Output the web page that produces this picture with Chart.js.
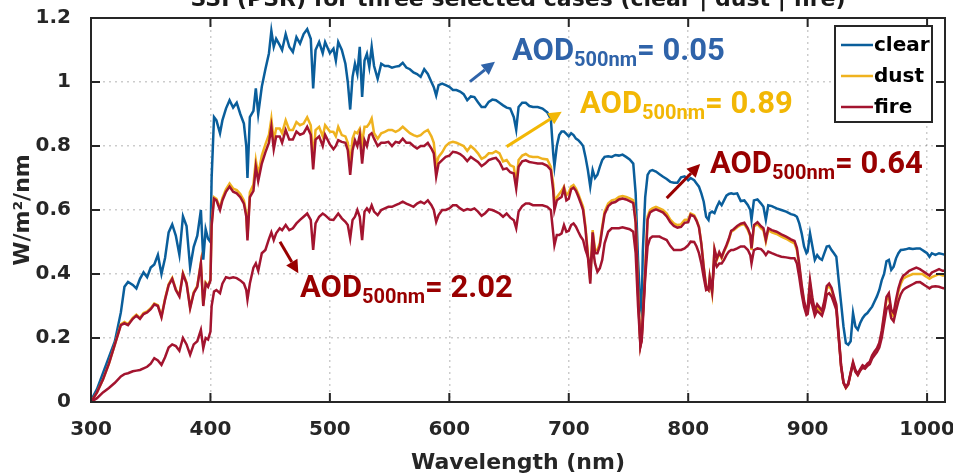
<!DOCTYPE html>
<html lang="en">
<head>
<meta charset="UTF-8">
<title>SSI (PSR) for three selected cases</title>
<style>
    body {
        margin: 0;
        padding: 0;
        background: #fff;
    }
    #chart {
        display: block;
    }
</style>
</head>
<body>
<canvas id="chart" width="953" height="476"></canvas>

<script src="https://cdn.jsdelivr.net/npm/chart.js"></script>
<script>
// wavelength grid (nm) and spectral irradiance (W/m2/nm)
const wavelength = [
    300,305,310,315,320,325,328,331,335,338,341,344,347,350,353,356,359,362,365,368,371,374,377,380,383,386,389,392,394,396,398,400,
    401,403,405,408,410,413,416,419,422,425,428,430,431,433,436,438,440,443,446,449,451,453,455,458,460,463,466,469,472,475,478,481,484,486,488,491,494,496,500,
    503,505,507,510,513,515,517,519,521,523,525,527,529,531,533,535,537,540,543,546,549,552,555,558,561,564,567,570,573,576,579,582,585,587,589,591,594,597,600,
    603,606,609,612,615,618,621,624,627,630,633,636,639,642,645,648,651,654,656,658,661,664,667,670,674,678,682,685,687,688,690,692,694,696,698,700,
    702,704,706,708,710,712,714,716,718,720,722,724,726,728,730,733,736,739,742,745,748,751,754,756,758,760,761,762,764,766,768,770,773,776,779,782,785,788,791,794,797,800,
    802,805,807,809,811,813,815,817,818,820,822,824,826,828,830,832,834,836,838,841,844,847,850,852,853,855,858,861,863,865,867,870,874,878,882,886,889,891,893,895,897,899,900,
    902,904,906,908,910,912,914,916,918,920,922,924,926,928,930,932,934,936,938,940,942,944,946,948,950,952,954,956,958,960,962,964,966,968,970,972,974,976,978,980,982,985,988,991,994,996,998,1000,1002,1004,1007,1010,1013,1015
];

// AOD 0.05
const clear = [
    0.005,0.04,0.09,0.14,0.19,0.28,0.36,0.375,0.366,0.355,0.385,0.405,0.39,0.42,0.43,0.46,0.40,0.45,0.53,0.555,0.52,0.46,0.58,0.55,0.42,0.485,0.52,0.60,0.445,0.54,0.51,0.50,
    0.70,0.89,0.88,0.84,0.88,0.917,0.943,0.92,0.935,0.90,0.87,0.80,0.70,0.89,0.91,0.98,0.90,0.985,1.04,1.09,1.16,1.11,1.135,1.115,1.10,1.15,1.11,1.094,1.14,1.12,1.15,1.165,1.135,0.98,1.10,1.125,1.09,1.125,1.09,
    1.104,1.067,1.125,1.10,1.057,1.0,0.914,1.016,1.057,1.026,1.11,0.953,1.067,1.088,1.047,1.11,1.05,1.01,1.057,1.05,1.05,1.045,1.048,1.05,1.06,1.045,1.04,1.03,1.025,1.016,1.04,1.025,1.0,0.984,0.958,0.99,0.995,0.99,0.985,
    0.975,0.975,0.97,0.962,0.943,0.955,0.953,0.937,0.922,0.922,0.938,0.945,0.943,0.935,0.927,0.92,0.917,0.89,0.851,0.922,0.935,0.935,0.925,0.922,0.922,0.917,0.905,0.885,0.775,0.737,0.80,0.834,0.845,0.845,0.838,0.83,
    0.84,0.834,0.823,0.818,0.81,0.80,0.766,0.725,0.673,0.725,0.70,0.71,0.735,0.756,0.766,0.768,0.766,0.772,0.77,0.773,0.766,0.758,0.745,0.652,0.444,0.298,0.28,0.47,0.64,0.71,0.722,0.725,0.72,0.712,0.704,0.697,0.688,0.685,0.685,0.702,0.705,0.693,
    0.70,0.693,0.683,0.673,0.652,0.626,0.579,0.569,0.59,0.595,0.59,0.61,0.625,0.615,0.63,0.645,0.65,0.652,0.65,0.652,0.628,0.63,0.615,0.60,0.569,0.63,0.633,0.62,0.61,0.569,0.615,0.612,0.605,0.60,0.595,0.587,0.584,0.579,0.558,0.527,0.486,0.465,0.47,
    0.527,0.486,0.444,0.459,0.449,0.444,0.465,0.486,0.488,0.475,0.465,0.454,0.38,0.309,0.236,0.184,0.179,0.19,0.278,0.236,0.226,0.247,0.262,0.272,0.278,0.288,0.298,0.314,0.33,0.35,0.38,0.40,0.44,0.444,0.413,0.423,0.449,0.465,0.475,0.476,0.477,0.48,0.478,0.48,0.48,0.475,0.47,0.465,0.454,0.465,0.46,0.465,0.462,0.46
];

// AOD 0.89
const dust = [
    0,0.03,0.07,0.12,0.18,0.243,0.25,0.243,0.263,0.273,0.263,0.278,0.283,0.293,0.308,0.303,0.268,0.323,0.368,0.388,0.353,0.333,0.403,0.373,0.296,0.343,0.363,0.436,0.303,0.373,0.363,0.383,
    0.555,0.64,0.635,0.607,0.637,0.665,0.683,0.667,0.662,0.65,0.63,0.59,0.515,0.655,0.68,0.755,0.71,0.77,0.805,0.835,0.885,0.815,0.855,0.855,0.84,0.88,0.85,0.85,0.875,0.865,0.87,0.89,0.865,0.76,0.85,0.86,0.83,0.865,0.845,
    0.844,0.83,0.86,0.834,0.83,0.81,0.74,0.823,0.844,0.84,0.854,0.81,0.86,0.86,0.87,0.886,0.84,0.823,0.84,0.844,0.85,0.85,0.844,0.85,0.86,0.85,0.84,0.834,0.83,0.834,0.844,0.85,0.83,0.81,0.74,0.766,0.78,0.80,0.81,
    0.813,0.81,0.805,0.80,0.785,0.80,0.79,0.777,0.76,0.766,0.777,0.777,0.784,0.777,0.752,0.756,0.74,0.735,0.683,0.756,0.77,0.775,0.768,0.766,0.766,0.76,0.758,0.735,0.68,0.63,0.64,0.65,0.66,0.673,0.646,0.655,
    0.673,0.678,0.667,0.65,0.63,0.61,0.548,0.465,0.38,0.537,0.475,0.475,0.496,0.548,0.595,0.62,0.63,0.633,0.641,0.644,0.641,0.636,0.63,0.569,0.35,0.179,0.2,0.27,0.41,0.58,0.60,0.605,0.61,0.605,0.60,0.589,0.57,0.558,0.553,0.555,0.569,0.57,
    0.589,0.584,0.569,0.548,0.496,0.423,0.36,0.35,0.39,0.34,0.475,0.444,0.465,0.449,0.47,0.486,0.506,0.532,0.537,0.546,0.553,0.556,0.537,0.517,0.475,0.548,0.556,0.543,0.537,0.501,0.537,0.53,0.525,0.517,0.51,0.501,0.496,0.475,0.423,0.36,0.309,0.278,0.285,
    0.37,0.318,0.278,0.298,0.288,0.278,0.309,0.355,0.362,0.35,0.324,0.298,0.205,0.111,0.059,0.044,0.055,0.09,0.122,0.096,0.085,0.10,0.111,0.106,0.116,0.122,0.142,0.153,0.163,0.179,0.215,0.267,0.319,0.33,0.278,0.267,0.309,0.345,0.37,0.385,0.39,0.395,0.40,0.40,0.40,0.40,0.395,0.39,0.385,0.39,0.395,0.40,0.395,0.395
];

// AOD 0.64
const fire = [
    0,0.03,0.07,0.12,0.18,0.24,0.246,0.24,0.26,0.27,0.26,0.275,0.28,0.29,0.305,0.30,0.265,0.32,0.365,0.385,0.35,0.33,0.40,0.37,0.293,0.34,0.36,0.433,0.30,0.37,0.36,0.38,
    0.55,0.635,0.63,0.60,0.63,0.657,0.673,0.657,0.652,0.64,0.62,0.58,0.505,0.64,0.66,0.735,0.69,0.745,0.78,0.81,0.86,0.79,0.83,0.83,0.81,0.85,0.82,0.82,0.845,0.835,0.84,0.86,0.835,0.727,0.82,0.83,0.80,0.835,0.805,
    0.79,0.80,0.818,0.813,0.81,0.787,0.71,0.787,0.818,0.80,0.834,0.745,0.818,0.80,0.834,0.84,0.823,0.80,0.81,0.81,0.813,0.80,0.813,0.81,0.823,0.81,0.81,0.80,0.792,0.80,0.80,0.81,0.792,0.777,0.704,0.745,0.756,0.766,0.77,
    0.782,0.78,0.775,0.766,0.753,0.766,0.758,0.75,0.737,0.745,0.756,0.76,0.763,0.75,0.727,0.73,0.718,0.714,0.667,0.735,0.752,0.755,0.75,0.748,0.745,0.745,0.738,0.725,0.66,0.60,0.63,0.636,0.641,0.667,0.63,0.635,
    0.665,0.67,0.66,0.642,0.622,0.60,0.54,0.455,0.37,0.53,0.465,0.465,0.488,0.54,0.587,0.612,0.622,0.625,0.633,0.636,0.633,0.628,0.622,0.56,0.34,0.175,0.195,0.265,0.40,0.57,0.592,0.597,0.602,0.597,0.592,0.58,0.562,0.55,0.545,0.547,0.56,0.562,
    0.585,0.58,0.566,0.546,0.494,0.42,0.36,0.35,0.39,0.345,0.478,0.448,0.468,0.453,0.473,0.49,0.51,0.535,0.54,0.55,0.557,0.56,0.542,0.522,0.48,0.553,0.562,0.549,0.543,0.507,0.543,0.537,0.532,0.524,0.517,0.508,0.503,0.482,0.43,0.367,0.316,0.285,0.292,
    0.38,0.325,0.285,0.305,0.295,0.285,0.316,0.362,0.37,0.357,0.33,0.305,0.21,0.115,0.062,0.046,0.058,0.092,0.125,0.10,0.088,0.103,0.115,0.11,0.12,0.126,0.146,0.158,0.168,0.185,0.222,0.275,0.328,0.34,0.288,0.278,0.32,0.355,0.38,0.395,0.40,0.41,0.415,0.42,0.415,0.41,0.405,0.40,0.395,0.405,0.41,0.415,0.41,0.41
];

// AOD 2.02 (second fire case)
const fireHeavy = [
    0,0.012,0.03,0.044,0.06,0.08,0.087,0.09,0.096,0.098,0.10,0.105,0.11,0.12,0.137,0.13,0.116,0.14,0.17,0.18,0.175,0.16,0.2,0.18,0.148,0.18,0.19,0.225,0.168,0.2,0.195,0.22,
    0.30,0.345,0.35,0.34,0.37,0.39,0.387,0.39,0.387,0.38,0.37,0.35,0.32,0.37,0.42,0.433,0.41,0.465,0.475,0.51,0.53,0.506,0.527,0.543,0.537,0.553,0.537,0.543,0.558,0.569,0.579,0.589,0.569,0.475,0.558,0.579,0.589,0.584,0.57,
    0.569,0.579,0.589,0.574,0.563,0.553,0.511,0.569,0.579,0.60,0.579,0.506,0.595,0.605,0.595,0.615,0.595,0.584,0.60,0.605,0.61,0.61,0.615,0.62,0.626,0.62,0.615,0.61,0.62,0.626,0.62,0.63,0.615,0.60,0.563,0.584,0.60,0.60,0.605,
    0.615,0.615,0.605,0.598,0.603,0.60,0.605,0.595,0.582,0.59,0.602,0.60,0.595,0.589,0.579,0.589,0.576,0.568,0.543,0.595,0.612,0.62,0.62,0.615,0.615,0.615,0.61,0.60,0.527,0.49,0.522,0.522,0.527,0.553,0.532,0.535,
    0.553,0.558,0.548,0.532,0.517,0.506,0.475,0.454,0.418,0.486,0.433,0.407,0.418,0.444,0.496,0.532,0.543,0.543,0.543,0.546,0.543,0.54,0.532,0.465,0.30,0.175,0.19,0.25,0.39,0.486,0.511,0.517,0.517,0.517,0.511,0.506,0.488,0.475,0.475,0.475,0.48,0.49,
    0.501,0.50,0.486,0.465,0.433,0.39,0.35,0.355,0.37,0.35,0.444,0.423,0.433,0.433,0.444,0.459,0.47,0.475,0.475,0.48,0.486,0.486,0.475,0.459,0.433,0.475,0.48,0.478,0.47,0.459,0.47,0.465,0.459,0.454,0.452,0.449,0.449,0.433,0.39,0.338,0.298,0.272,0.275,
    0.33,0.30,0.27,0.285,0.278,0.27,0.295,0.335,0.34,0.33,0.31,0.288,0.20,0.11,0.06,0.045,0.055,0.088,0.118,0.094,0.084,0.098,0.108,0.104,0.113,0.118,0.136,0.146,0.156,0.17,0.20,0.245,0.29,0.30,0.262,0.252,0.285,0.315,0.337,0.35,0.356,0.362,0.368,0.374,0.375,0.37,0.365,0.36,0.355,0.36,0.362,0.36,0.356,0.355
];

const xTicks = [300, 400, 500, 600, 700, 800, 900, 1000];
const xTickLabels = ['300', '400', '500', '600', '700', '800', '900', '1000'];
const yTicks = [0, 0.2, 0.4, 0.6, 0.8, 1, 1.2];
const yTickLabels = ['0', '0.2', '0.4', '0.6', '0.8', '1', '1.2'];
const aodValues = ['0.05', '0.89', '0.64', '2.02'];

// annotation placement, in data units (wavelength, W/m2/nm)
const notes = [
    { value: aodValues[0], color: '#2f63a9', at: [652.5, 1.070], from: [617.3, 1.001], to: [638.2, 1.063] },
    { value: aodValues[1], color: '#f2b705', at: [709.4, 0.903], from: [648.0, 0.798], to: [694.1, 0.907] },
    { value: aodValues[2], color: '#990000', at: [818.2, 0.716], from: [782.0, 0.637], to: [810.0, 0.744] },
    { value: aodValues[3], color: '#990000', at: [475.0, 0.328], from: [458.2, 0.501], to: [473.6, 0.402] }
];

const axisColor = '#262626';
const tickFont = { family: '"DejaVu Sans"', size: 20, weight: 'bold' };

function toPoints(ys) {
    return wavelength.map((w, i) => ({ x: w, y: ys[i] }));
}

function drawArrow(ctx, x1, y1, x2, y2, color) {
    const ang = Math.atan2(y2 - y1, x2 - x1);
    const head = 13, half = 6.5;
    const bx = x2 - head * Math.cos(ang);
    const by = y2 - head * Math.sin(ang);
    ctx.strokeStyle = color;
    ctx.fillStyle = color;
    ctx.lineWidth = 3;
    ctx.beginPath();
    ctx.moveTo(x1, y1);
    ctx.lineTo(bx, by);
    ctx.stroke();
    ctx.beginPath();
    ctx.moveTo(x2, y2);
    ctx.lineTo(bx + half * Math.sin(ang), by - half * Math.cos(ang));
    ctx.lineTo(bx - half * Math.sin(ang), by + half * Math.cos(ang));
    ctx.closePath();
    ctx.fill();
}

const framePlugin = {
    id: 'frame',
    afterDraw(chart) {
        const { ctx, chartArea: a, scales: { x, y } } = chart;
        ctx.save();

        // box and inward ticks on all four sides
        ctx.strokeStyle = axisColor;
        ctx.lineWidth = 2;
        ctx.strokeRect(a.left, a.top, a.right - a.left, a.bottom - a.top);
        ctx.beginPath();
        xTicks.forEach(v => {
            const px = x.getPixelForValue(v);
            ctx.moveTo(px, a.bottom); ctx.lineTo(px, a.bottom - 9);
            ctx.moveTo(px, a.top); ctx.lineTo(px, a.top + 9);
        });
        yTicks.forEach(v => {
            const py = y.getPixelForValue(v);
            ctx.moveTo(a.left, py); ctx.lineTo(a.left + 9, py);
            ctx.moveTo(a.right, py); ctx.lineTo(a.right - 9, py);
        });
        ctx.stroke();

        // title, cut by the top edge like the original export
        ctx.fillStyle = '#1a1a1a';
        ctx.font = 'bold 22px "DejaVu Sans"';
        ctx.textAlign = 'center';
        ctx.textBaseline = 'alphabetic';
        ctx.fillText('SSI (PSR) for three selected cases (clear | dust | fire)', (a.left + a.right) / 2, 6);

        // legend
        const lx = a.right - 110, ly = a.top + 8, lw = 97, lh = 96;
        ctx.fillStyle = '#fff';
        ctx.fillRect(lx, ly, lw, lh);
        ctx.strokeStyle = axisColor;
        ctx.lineWidth = 2;
        ctx.strokeRect(lx, ly, lw, lh);
        ctx.font = 'bold 20px "DejaVu Sans"';
        ctx.textAlign = 'left';
        ctx.textBaseline = 'middle';
        chart.data.datasets.slice(0, 3).forEach((ds, i) => {
            const cy = ly + 19 + i * 31;
            ctx.strokeStyle = ds.borderColor;
            ctx.lineWidth = 2.5;
            ctx.beginPath();
            ctx.moveTo(lx + 6, cy);
            ctx.lineTo(lx + 38, cy);
            ctx.stroke();
            ctx.fillStyle = '#000';
            ctx.fillText(ds.label, lx + 39, cy + 1);
        });

        // AOD labels and arrows
        notes.forEach(n => {
            drawArrow(ctx, x.getPixelForValue(n.from[0]), y.getPixelForValue(n.from[1]),
                x.getPixelForValue(n.to[0]), y.getPixelForValue(n.to[1]), n.color);
            const px = x.getPixelForValue(n.at[0]);
            const py = y.getPixelForValue(n.at[1]);
            ctx.fillStyle = n.color;
            ctx.textAlign = 'left';
            ctx.textBaseline = 'alphabetic';
            ctx.font = 'bold 31px Roboto';
            ctx.fillText('AOD', px, py);
            let w = ctx.measureText('AOD').width;
            ctx.font = 'bold 20px Roboto';
            ctx.fillText('500nm', px + w, py + 6);
            w += ctx.measureText('500nm').width;
            ctx.font = 'bold 31px Roboto';
            ctx.fillText('= ' + n.value, px + w, py);
        });

        ctx.restore();
    }
};

const ctx = document.getElementById('chart').getContext('2d');
new Chart(ctx, {
    type: 'line',
    data: {
        datasets: [
            { label: 'clear', data: toPoints(clear), borderColor: '#0a5e9b', order: 3 },
            { label: 'dust', data: toPoints(dust), borderColor: '#efb21f', order: 2 },
            { label: 'fire', data: toPoints(fire), borderColor: '#a3142f', order: 1 },
            { label: 'fire (AOD 2.02)', data: toPoints(fireHeavy), borderColor: '#a3142f', order: 0 }
        ]
    },
    options: {
        responsive: false,
        animation: false,
        elements: {
            line: { borderWidth: 2.5, tension: 0, fill: false },
            point: { radius: 0 }
        },
        layout: { autoPadding: false, padding: { top: 18, right: 8, left: 0, bottom: 0 } },
        plugins: {
            legend: { display: false },
            tooltip: { enabled: false }
        },
        scales: {
            x: {
                type: 'linear',
                min: 300,
                max: 1015,
                afterBuildTicks: s => { s.ticks = xTicks.map(v => ({ value: v })); },
                afterFit: s => {
                    s.height = 74;
                    s.paddingLeft = 0;
                    s.paddingRight = 0;
                },
                ticks: {
                    font: tickFont,
                    color: axisColor,
                    padding: 16,
                    maxRotation: 0,
                    callback: (v, i) => xTickLabels[i]
                },
                grid: { color: 'rgba(0,0,0,0.2)', lineWidth: 1.5, drawTicks: false },
                border: { display: false, dash: [2, 4] },
                title: {
                    display: true,
                    text: 'Wavelength (nm)',
                    color: axisColor,
                    font: { family: '"DejaVu Sans"', size: 22, weight: 'bold' },
                    padding: { top: 0, bottom: 0 }
                }
            },
            y: {
                min: 0,
                max: 1.2,
                afterBuildTicks: s => { s.ticks = yTicks.map(v => ({ value: v })); },
                afterFit: s => {
                    s.width = 91;
                    s.paddingTop = 0;
                    s.paddingBottom = 0;
                },
                ticks: {
                    font: tickFont,
                    color: axisColor,
                    padding: 20,
                    callback: (v, i) => yTickLabels[i]
                },
                grid: { color: 'rgba(0,0,0,0.2)', lineWidth: 1.5, drawTicks: false },
                border: { display: false, dash: [2, 4] },
                title: {
                    display: true,
                    text: 'W/m²/nm',
                    color: axisColor,
                    font: { family: '"DejaVu Sans"', size: 22, weight: 'bold' },
                    padding: { top: 10, bottom: 0 }
                }
            }
        }
    },
    plugins: [framePlugin]
});
</script>
</body>
</html>
